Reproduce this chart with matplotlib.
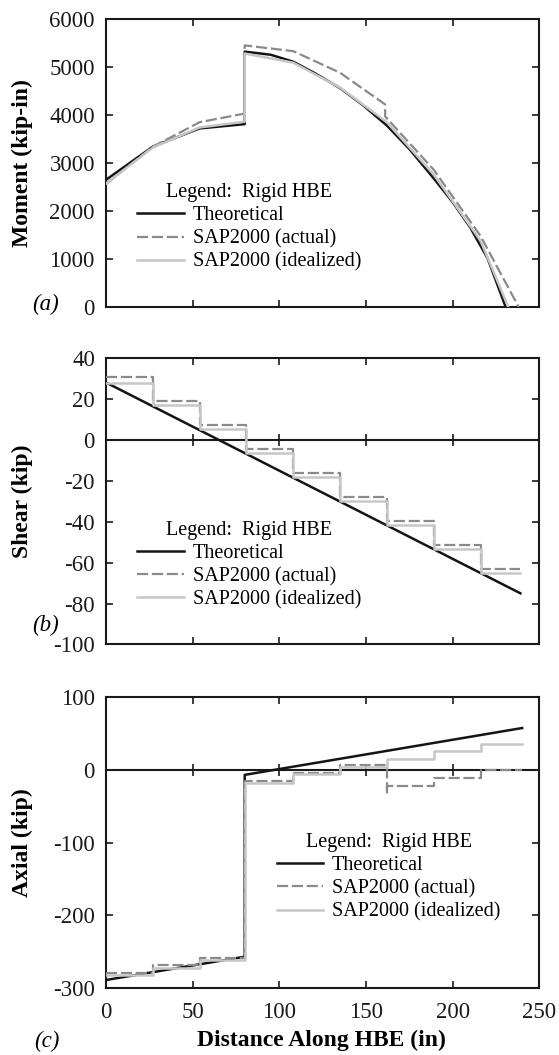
import numpy as np
import matplotlib
matplotlib.use('Agg')
import matplotlib.pyplot as plt
from matplotlib.lines import Line2D

plt.rcParams['font.family'] = ['Liberation Serif', 'DejaVu Serif']

# ---------------- data ----------------
x_ticks = [0, 50, 100, 150, 200, 250]
x_ticklabels = ['0', '50', '100', '150', '200', '250']

# (a) Moment (kip-in)
m_theory_x = [0, 27, 54, 80, 80, 95, 108, 120, 135, 148, 162, 175, 189, 200, 210, 220, 230.5]
m_theory_y = [2650, 3340, 3720, 3810, 5320, 5255, 5110, 4880, 4560, 4210, 3780, 3290, 2680, 2180, 1660, 1020, 0]
m_actual_x = [0, 27, 54, 80, 80, 108, 135, 161, 161, 189, 216, 238]
m_actual_y = [2560, 3340, 3850, 4030, 5450, 5330, 4880, 4220, 3970, 2860, 1480, 0]
m_ideal_x = [0, 27, 54, 80, 80, 108, 135, 162, 189, 216, 232]
m_ideal_y = [2570, 3320, 3740, 3860, 5280, 5090, 4570, 3850, 2760, 1380, 0]
m_yticks = [0, 1000, 2000, 3000, 4000, 5000, 6000]

# (b) Shear (kip)
s_nodes = [0, 27, 54, 81, 108, 135, 162, 189, 216, 239]
s_actual = [30.5, 19.0, 7.2, -4.5, -16.1, -27.8, -39.5, -51.2, -62.9]
s_ideal = [28.0, 16.8, 5.2, -6.6, -18.2, -30.0, -41.8, -53.4, -65.2]
s_theory_x = [0, 239]
s_theory_y = [28, -75]
s_yticks = [-100, -80, -60, -40, -20, 0, 20, 40]

# (c) Axial (kip)
a_theory_x = [0, 80, 80, 240]
a_theory_y = [-289, -257, -7, 57.4]
a_nodes = [0, 27, 54, 80, 108, 135, 162, 189, 216, 240]
a_actual = [-279, -269, -259, -15.7, -4.6, 6.0, -22.5, -11.0, 0.0]
a_ideal = [-282, -272, -262, -18.0, -6.0, 4.5, 15.1, 25.2, 35.8]
a_actual_spike_x = [162]
a_actual_spike_y = [-33]
a_yticks = [-300, -200, -100, 0, 100]

labels = ['Theoretical', 'SAP2000 (actual)', 'SAP2000 (idealized)']
legend_title = 'Legend:  Rigid HBE'

# ---------------- style ----------------
c_theory = '#141414'
c_actual = '#8a8a8a'
c_ideal = '#c6c6c6'
lw_theory = 1.8
lw_actual = 1.6
lw_ideal = 1.8
dash = (5, 1.7)


def step_path(nodes, vals, spike_x=(), spike_y=()):
    xs, ys = [], []
    spikes = dict(zip(spike_x, spike_y))
    for i, v in enumerate(vals):
        if i > 0 and nodes[i] in spikes:
            xs.append(nodes[i]); ys.append(spikes[nodes[i]])
        xs += [nodes[i], nodes[i + 1]]
        ys += [v, v]
    return xs, ys


fig = plt.figure(figsize=(5.59, 10.55), dpi=100)
L, W = 0.1896, 0.7755
ax_a = fig.add_axes([L, 0.7090, W, 0.2730])
ax_b = fig.add_axes([L, 0.3891, W, 0.2716])
ax_c = fig.add_axes([L, 0.0635, W, 0.2758])


def style(ax, yticks, ylim, ylabel, show_x):
    ax.set_xlim(0, 250)
    ax.set_ylim(*ylim)
    ax.set_xticks(x_ticks)
    ax.set_yticks(yticks)
    ax.set_yticklabels([str(t) for t in yticks])
    if show_x:
        ax.set_xticklabels(x_ticklabels)
    else:
        ax.set_xticklabels([])
    ax.tick_params(direction='in', length=5, width=1.2, top=True, right=True,
                   labelsize=16.5, pad=8, colors='#1a1a1a')
    ax.tick_params(axis='x', pad=10)
    for sp in ax.spines.values():
        sp.set_linewidth(1.5)
        sp.set_color('#1a1a1a')
    ax.set_ylabel(ylabel, fontsize=17, fontweight='bold')
    ax.yaxis.set_label_coords(-0.168, 0.5)


def add_legend(ax, anchor):
    handles = [Line2D([], [], color=c_theory, lw=lw_theory),
               Line2D([], [], color=c_actual, lw=lw_actual, dashes=dash),
               Line2D([], [], color=c_ideal, lw=lw_ideal)]
    leg = ax.legend(handles, labels, title=legend_title, loc='upper left',
                    bbox_to_anchor=anchor, frameon=False, fontsize=14.5,
                    title_fontsize=14.5, handlelength=2.3, handletextpad=0.45,
                    labelspacing=0.2, borderpad=0, borderaxespad=0)
    return leg


def zero_axis(ax, frac):
    sec = ax.secondary_xaxis(frac)
    sec.set_xticks(x_ticks)
    sec.set_xticklabels([])
    sec.tick_params(direction='inout', length=9, width=1.2, colors='#1a1a1a')
    for sp in sec.spines.values():
        sp.set_linewidth(1.5)
        sp.set_color('#1a1a1a')


# (a)
ax_a.plot(m_theory_x, m_theory_y, color=c_theory, lw=lw_theory, zorder=3)
ax_a.plot(m_actual_x, m_actual_y, color=c_actual, lw=lw_actual, dashes=dash, zorder=3)
ax_a.plot(m_ideal_x, m_ideal_y, color=c_ideal, lw=lw_ideal, zorder=3)
style(ax_a, m_yticks, (0, 6000), 'Moment (kip-in)', False)
add_legend(ax_a, (0.072, 0.43))
ax_a.text(-0.108, 0.01, '(a)', transform=ax_a.transAxes, ha='right', va='center',
          fontsize=16.5, style='italic')

# (b)
ax_b.plot(s_theory_x, s_theory_y, color=c_theory, lw=lw_theory, zorder=3)
bx, by = step_path(s_nodes, s_actual)
ax_b.plot(bx, by, color=c_actual, lw=lw_actual, dashes=dash, zorder=3)
bx, by = step_path(s_nodes, s_ideal)
ax_b.plot(bx, by, color=c_ideal, lw=lw_ideal, zorder=3)
style(ax_b, s_yticks, (-100, 40), 'Shear (kip)', False)
zero_axis(ax_b, 100 / 140)
add_legend(ax_b, (0.072, 0.432))
ax_b.text(-0.108, 0.065, '(b)', transform=ax_b.transAxes, ha='right', va='center',
          fontsize=16.5, style='italic')

# (c)
ax_c.plot(a_theory_x, a_theory_y, color=c_theory, lw=lw_theory, zorder=3)
cx, cy = step_path(a_nodes, a_actual, a_actual_spike_x, a_actual_spike_y)
ax_c.plot(cx, cy, color=c_actual, lw=lw_actual, dashes=dash, zorder=3)
cx, cy = step_path(a_nodes, a_ideal)
ax_c.plot(cx, cy, color=c_ideal, lw=lw_ideal, zorder=3)
style(ax_c, a_yticks, (-300, 100), 'Axial (kip)', True)
zero_axis(ax_c, 300 / 400)
add_legend(ax_c, (0.394, 0.533))
ax_c.set_xlabel('Distance Along HBE (in)', fontsize=17, fontweight='bold')
ax_c.xaxis.set_label_coords(0.497, -0.142)
ax_c.text(-0.108, -0.184, '(c)', transform=ax_c.transAxes, ha='right', va='center',
          fontsize=16.5, style='italic')

fig.savefig('out.png', dpi=100)
